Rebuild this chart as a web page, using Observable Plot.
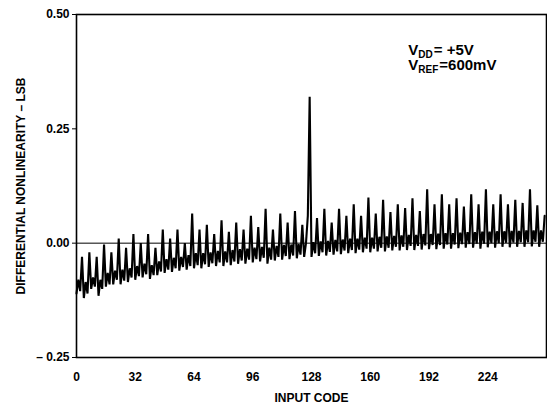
<!DOCTYPE html>
<html>
<head>
<meta charset="utf-8">
<script src="https://cdn.jsdelivr.net/npm/d3@7"></script>
<script src="https://cdn.jsdelivr.net/npm/@observablehq/plot@0.6"></script>
<style>
  html, body { margin: 0; padding: 0; background: #fff; }
</style>
</head>
<body>
<div id="chart"></div>
<script>
// Differential nonlinearity (LSB) for input codes 0..255
const dnl = [
  -0.110, -0.080, -0.105, -0.030,
  -0.120, -0.085, -0.110, -0.020,
  -0.100, -0.075, -0.095, -0.030,
  -0.115, -0.080, -0.100, -0.003,
  -0.095, -0.065, -0.090, -0.020,
  -0.090, -0.060, -0.080,  0.010,
  -0.090, -0.058, -0.082, -0.010,
  -0.085, -0.055, -0.075,  0.020,
  -0.080, -0.050, -0.072,  0.000,
  -0.075, -0.045, -0.068,  0.020,
  -0.078, -0.048, -0.070, -0.010,
  -0.070, -0.040, -0.062,  0.030,
  -0.065, -0.035, -0.058,  0.010,
  -0.063, -0.032, -0.055,  0.030,
  -0.060, -0.030, -0.052,  0.000,
  -0.058, -0.026, -0.050,  0.065,
  -0.055, -0.022, -0.048,  0.030,
  -0.055, -0.022, -0.046,  0.040,
  -0.052, -0.020, -0.044,  0.020,
  -0.050, -0.017, -0.042,  0.050,
  -0.050, -0.018, -0.042,  0.025,
  -0.048, -0.015, -0.040,  0.045,
  -0.045, -0.013, -0.038,  0.030,
  -0.045, -0.012, -0.036,  0.060,
  -0.042, -0.010, -0.035,  0.035,
  -0.040, -0.008, -0.032,  0.075,
  -0.045, -0.010, -0.036,  0.030,
  -0.038, -0.006, -0.030,  0.065,
  -0.036, -0.004, -0.028,  0.045,
  -0.035, -0.003, -0.027,  0.070,
  -0.033, -0.002, -0.025,  0.040,
  -0.030,  0.000,  0.060,  0.320,
  -0.030,  0.002, -0.022,  0.055,
  -0.028,  0.004, -0.020,  0.075,
  -0.027,  0.005, -0.019,  0.045,
  -0.025,  0.007, -0.018,  0.075,
  -0.024,  0.008, -0.016,  0.060,
  -0.022,  0.010, -0.015,  0.085,
  -0.022,  0.010, -0.014,  0.060,
  -0.020,  0.012, -0.012,  0.100,
  -0.020,  0.012, -0.012,  0.065,
  -0.018,  0.014, -0.010,  0.095,
  -0.018,  0.015, -0.010,  0.068,
  -0.016,  0.016, -0.008,  0.085,
  -0.016,  0.017, -0.008,  0.077,
  -0.015,  0.018, -0.006,  0.098,
  -0.015,  0.018, -0.006,  0.070,
  -0.014,  0.020, -0.005,  0.118,
  -0.013,  0.020, -0.004,  0.085,
  -0.013,  0.021, -0.004,  0.107,
  -0.012,  0.022, -0.003,  0.085,
  -0.012,  0.022, -0.003,  0.098,
  -0.011,  0.023, -0.002,  0.080,
  -0.010,  0.024, -0.002,  0.107,
  -0.010,  0.024, -0.001,  0.085,
  -0.012,  0.025, -0.001,  0.118,
  -0.009,  0.025,  0.000,  0.085,
  -0.010,  0.026,  0.000,  0.107,
  -0.008,  0.026,  0.001,  0.085,
  -0.009,  0.027,  0.001,  0.095,
  -0.008,  0.027,  0.002,  0.088,
  -0.008,  0.028,  0.002,  0.118,
  -0.007,  0.028,  0.003,  0.083,
  -0.008,  0.028,  0.003,  0.060
];
const codes = d3.range(dnl.length);
const xTicks = [0, 32, 64, 96, 128, 160, 192, 224];
const yTicks = [-0.25, 0, 0.25, 0.5];
const xLabel = "INPUT CODE";
const yLabel = "DIFFERENTIAL NONLINEARITY – LSB";
const noteLines = [["V", "DD", "= +5V"], ["V", "REF", "=600mV"]];
const notePos = { code: 181, value: [0.41, 0.378] };

const data = codes.map((c, i) => ({ code: c, dnl: dnl[i] }));
const font = "'Liberation Sans', Arial, Helvetica, sans-serif";

const plot = Plot.plot({
  width: 547,
  height: 409,
  marginLeft: 76,
  marginRight: 1,
  marginTop: 14,
  marginBottom: 52,
  style: { fontFamily: font, fontSize: "12px", fontWeight: "bold", color: "black", background: "white" },
  x: { domain: [0, 256] },
  y: { domain: [-0.25, 0.5] },
  marks: [
    Plot.ruleY([0], { stroke: "black", strokeWidth: 1 }),
    Plot.line(data, { x: "code", y: "dnl", stroke: "black", strokeWidth: 2.1, strokeLinejoin: "miter" }),
    Plot.frame({ stroke: "black", strokeWidth: 1.6 }),
    Plot.axisX({
      ticks: xTicks, tickSize: 0, tickPadding: 15,
      label: xLabel, labelAnchor: "center", labelArrow: "none", labelOffset: 44
    }),
    Plot.axisY({
      ticks: yTicks, tickSize: 4, tickPadding: 3,
      tickFormat: d => d < 0 ? "– " + Math.abs(d).toFixed(2) : d.toFixed(2),
      label: yLabel, labelAnchor: "center", labelArrow: "none", labelOffset: 60
    })
  ]
});

document.getElementById("chart").appendChild(plot);

const sx = plot.scale("x"), sy = plot.scale("y");
const svg = d3.select(plot);
noteLines.forEach((parts, i) => {
  const t = svg.append("text")
    .attr("x", sx.apply(notePos.code))
    .attr("y", sy.apply(notePos.value[i]))
    .attr("text-anchor", "start")
    .attr("font-family", font)
    .attr("font-weight", "bold")
    .attr("font-size", 15)
    .attr("fill", "black");
  t.append("tspan").text(parts[0]);
  t.append("tspan").attr("font-size", 10).attr("dy", 3).text(parts[1]);
  t.append("tspan").attr("dy", -3).attr("dx", 1).text(parts[2]);
});
</script>
</body>
</html>
